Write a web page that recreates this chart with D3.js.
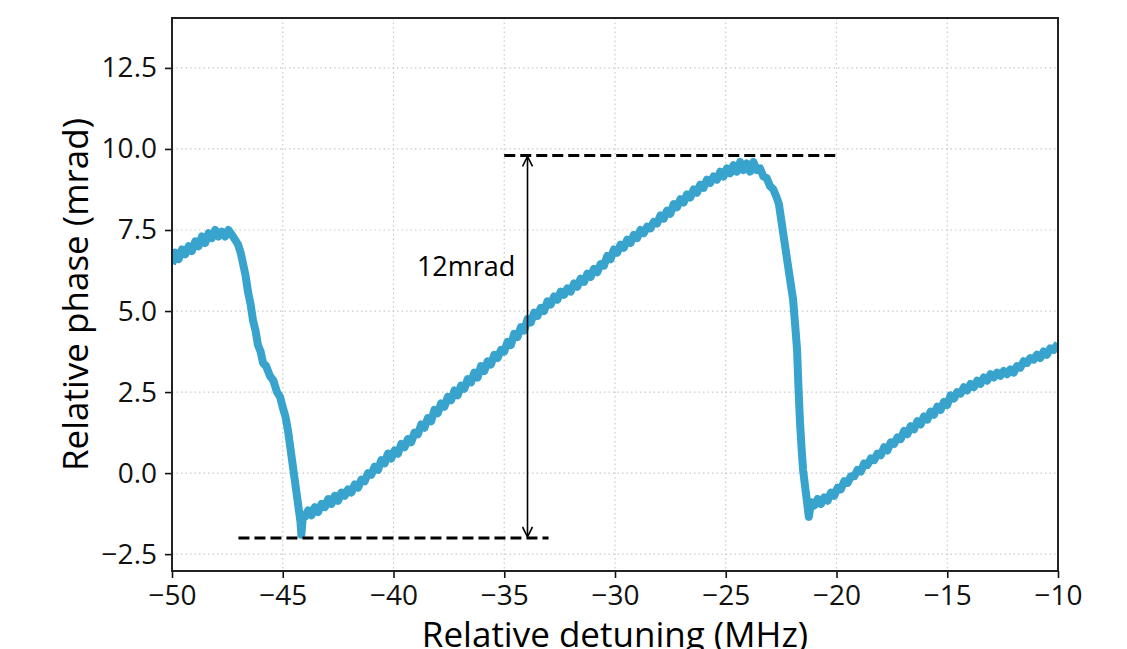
<!DOCTYPE html>
<html lang="en">
<head>
<meta charset="UTF-8">
<title>Relative phase vs detuning</title>
<script src="https://d3js.org/d3.v7.min.js"></script>
<style>
    body { margin: 0; background: #fff; overflow: hidden; }
    svg { display: block; }
    .tick text { font-family: "Open Sans", sans-serif; font-size: 28px; fill: #111; }
    .grid line { stroke: #c9c9c9; stroke-width: 1.2; stroke-dasharray: 1.5,3; }
</style>
</head>
<body>
<svg id="chart" width="1127" height="649"></svg>
<script>
    // trace, in rows of ten (MHz)
    const detuning = [
        -50.0, -49.85, -49.7, -49.55, -49.4, -49.25, -49.1, -48.95, -48.8, -48.65,
        -48.5, -48.35, -48.2, -48.05, -47.9, -47.75, -47.6, -47.45, -47.3, -47.15,
        -47.02, -46.9, -46.79, -46.68, -46.57, -46.45, -46.34, -46.23, -46.12, -46.0,
        -45.89, -45.75, -45.58, -45.42, -45.26, -45.12, -44.99, -44.88, -44.76, -44.67,
        -44.58, -44.49, -44.4, -44.3, -44.2, -44.16, -44.1, -44.0, -43.85, -43.7,
        -43.55, -43.4, -43.25, -43.1, -42.95, -42.8, -42.65, -42.5, -42.35, -42.2,
        -42.05, -41.9, -41.75, -41.6, -41.45, -41.3, -41.15, -41.0, -40.85, -40.7,
        -40.55, -40.4, -40.25, -40.1, -39.95, -39.8, -39.65, -39.5, -39.35, -39.2,
        -39.05, -38.9, -38.75, -38.6, -38.45, -38.3, -38.15, -38.0, -37.85, -37.7,
        -37.55, -37.4, -37.25, -37.1, -36.95, -36.8, -36.65, -36.5, -36.35, -36.2,
        -36.05, -35.9, -35.75, -35.6, -35.45, -35.3, -35.15, -35.0, -34.85, -34.7,
        -34.55, -34.4, -34.25, -34.1, -33.95, -33.8, -33.65, -33.5, -33.35, -33.2,
        -33.05, -32.9, -32.75, -32.6, -32.45, -32.3, -32.15, -32.0, -31.85, -31.7,
        -31.55, -31.4, -31.25, -31.1, -30.95, -30.8, -30.65, -30.5, -30.35, -30.2,
        -30.05, -29.9, -29.75, -29.6, -29.45, -29.3, -29.15, -29.0, -28.85, -28.7,
        -28.55, -28.4, -28.25, -28.1, -27.95, -27.8, -27.65, -27.5, -27.35, -27.2,
        -27.05, -26.9, -26.75, -26.6, -26.45, -26.3, -26.15, -26.0, -25.85, -25.7,
        -25.55, -25.4, -25.25, -25.1, -24.95, -24.8, -24.65, -24.5, -24.35, -24.2,
        -24.05, -23.9, -23.75, -23.6, -23.45, -23.3, -23.15, -23.0, -22.85, -22.7,
        -22.6, -22.46, -22.32, -22.19, -22.08, -21.96, -21.87, -21.78, -21.72, -21.65,
        -21.58, -21.51, -21.42, -21.33, -21.25, -21.15, -21.0, -20.85, -20.7, -20.55,
        -20.4, -20.25, -20.1, -19.95, -19.8, -19.65, -19.5, -19.35, -19.2, -19.05,
        -18.9, -18.75, -18.6, -18.45, -18.3, -18.15, -18.0, -17.85, -17.7, -17.55,
        -17.4, -17.25, -17.1, -16.95, -16.8, -16.65, -16.5, -16.35, -16.2, -16.05,
        -15.9, -15.75, -15.6, -15.45, -15.3, -15.15, -15.0, -14.85, -14.7, -14.55,
        -14.4, -14.25, -14.1, -13.95, -13.8, -13.65, -13.5, -13.35, -13.2, -13.05,
        -12.9, -12.75, -12.6, -12.45, -12.3, -12.15, -12.0, -11.85, -11.7, -11.55,
        -11.4, -11.25, -11.1, -10.95, -10.8, -10.65, -10.5, -10.35, -10.2, -10.0
    ];
    // matching phase readings (mrad)
    const phase = [
        6.45, 6.8, 6.6, 6.9, 6.75, 7.0, 6.85, 7.15, 7.0, 7.3,
        7.1, 7.4, 7.25, 7.5, 7.3, 7.45, 7.3, 7.5, 7.35, 7.2,
        7.05, 6.8, 6.45, 6.1, 5.6, 5.2, 4.7, 4.4, 3.95, 3.75,
        3.4, 3.3, 3.0, 2.85, 2.5, 2.35, 2.0, 1.75, 1.3, 0.85,
        0.4, -0.05, -0.5, -1.0, -1.5, -1.9, -1.4, -1.35, -1.15, -1.3,
        -1.05, -1.2, -0.95, -1.05, -0.8, -0.95, -0.7, -0.85, -0.6, -0.7,
        -0.5, -0.6, -0.35, -0.45, -0.2, -0.25, 0.0, -0.05, 0.2, 0.1,
        0.4, 0.3, 0.6, 0.45, 0.7, 0.6, 0.9, 0.8, 1.05, 0.95,
        1.25, 1.2, 1.5, 1.4, 1.7, 1.6, 1.95, 1.85, 2.15, 2.05,
        2.35, 2.25, 2.55, 2.4, 2.7, 2.6, 2.9, 2.8, 3.1, 2.95,
        3.3, 3.15, 3.45, 3.35, 3.65, 3.55, 3.8, 3.75, 4.05, 3.95,
        4.3, 4.2, 4.5, 4.4, 4.75, 4.65, 4.95, 4.85, 5.1, 5.0,
        5.3, 5.2, 5.45, 5.35, 5.6, 5.5, 5.7, 5.6, 5.85, 5.75,
        6.0, 5.9, 6.15, 6.05, 6.3, 6.2, 6.45, 6.4, 6.7, 6.6,
        6.9, 6.8, 7.05, 6.95, 7.2, 7.1, 7.35, 7.25, 7.5, 7.4,
        7.6, 7.55, 7.75, 7.7, 7.95, 7.85, 8.1, 8.0, 8.3, 8.2,
        8.45, 8.35, 8.6, 8.5, 8.75, 8.65, 8.9, 8.8, 9.05, 8.95,
        9.15, 9.05, 9.3, 9.15, 9.4, 9.25, 9.5, 9.3, 9.6, 9.35,
        9.55, 9.3, 9.6, 9.35, 9.4, 9.15, 9.1, 8.85, 8.75, 8.5,
        8.3, 7.65, 7.0, 6.4, 5.9, 5.35, 4.6, 3.8, 2.7, 1.6,
        0.8, 0.1, -0.4, -0.9, -1.35, -0.9, -1.0, -0.8, -0.95, -0.75,
        -0.85, -0.6, -0.7, -0.45, -0.5, -0.25, -0.3, -0.1, -0.1, 0.1,
        0.05, 0.3, 0.25, 0.45, 0.4, 0.6, 0.55, 0.8, 0.7, 0.95,
        0.9, 1.1, 1.05, 1.3, 1.2, 1.45, 1.35, 1.6, 1.5, 1.75,
        1.65, 1.9, 1.8, 2.05, 1.95, 2.2, 2.1, 2.4, 2.3, 2.5,
        2.45, 2.65, 2.55, 2.75, 2.65, 2.85, 2.75, 2.95, 2.85, 3.05,
        2.95, 3.1, 3.0, 3.15, 3.05, 3.2, 3.1, 3.3, 3.25, 3.45,
        3.4, 3.55, 3.5, 3.65, 3.55, 3.75, 3.65, 3.85, 3.8, 4.0
    ];
    const xTicks = [-50, -45, -40, -35, -30, -25, -20, -15, -10];
    const yTicks = [-2.5, 0.0, 2.5, 5.0, 7.5, 10.0, 12.5];

    // annotation: phase excursion markers
    const lowLevel = -2.0, highLevel = 9.8;
    const lowSpan = [-47, -33], highSpan = [-35, -20];
    const arrowX = -33.95;
    const spanLabel = "12mrad";

    const svg = d3.select("#chart");
    const margin = { top: 18, right: 69, bottom: 78, left: 172 };
    const width = 1127 - margin.left - margin.right,
          height = 649 - margin.top - margin.bottom;

    const x = d3.scaleLinear().domain([-50, -10]).range([0, width]);
    const y = d3.scaleLinear().domain([-3.02, 14.04]).range([height, 0]);

    const defs = svg.append("defs");
    defs.append("clipPath").attr("id", "clip")
        .append("rect").attr("width", width).attr("height", height);
    defs.append("marker")
        .attr("id", "head")
        .attr("viewBox", "0 0 12 12")
        .attr("refX", 11).attr("refY", 6)
        .attr("markerWidth", 12).attr("markerHeight", 12)
        .attr("markerUnits", "userSpaceOnUse")
        .attr("orient", "auto-start-reverse")
        .append("path")
        .attr("d", "M1,1 L11,6 L1,11")
        .attr("fill", "none").attr("stroke", "#000").attr("stroke-width", 1.6);

    const g = svg.append("g").attr("transform", `translate(${margin.left},${margin.top})`);

    // grid
    g.append("g").attr("class", "grid")
        .selectAll("line").data(xTicks.slice(1, -1)).join("line")
        .attr("x1", d => x(d)).attr("x2", d => x(d)).attr("y1", 0).attr("y2", height);
    g.append("g").attr("class", "grid")
        .selectAll("line").data(yTicks).join("line")
        .attr("y1", d => y(d)).attr("y2", d => y(d)).attr("x1", 0).attr("x2", width);

    // data trace
    const n = Math.min(detuning.length, phase.length);
    const pts = d3.range(n).map(i => [detuning[i], phase[i]]);
    g.append("path")
        .datum(pts)
        .attr("clip-path", "url(#clip)")
        .attr("fill", "none")
        .attr("stroke", "#38a3cc")
        .attr("stroke-width", 8)
        .attr("stroke-linejoin", "round")
        .attr("d", d3.line().x(d => x(d[0])).y(d => y(d[1])));

    // dashed level lines
    g.append("line")
        .attr("x1", x(lowSpan[0])).attr("x2", x(lowSpan[1]))
        .attr("y1", y(lowLevel)).attr("y2", y(lowLevel))
        .attr("stroke", "#000").attr("stroke-width", 3).attr("stroke-dasharray", "11,5");
    g.append("line")
        .attr("x1", x(highSpan[0])).attr("x2", x(highSpan[1]))
        .attr("y1", y(highLevel)).attr("y2", y(highLevel))
        .attr("stroke", "#000").attr("stroke-width", 3).attr("stroke-dasharray", "11,5");

    // double arrow
    g.append("line")
        .attr("x1", x(arrowX)).attr("x2", x(arrowX))
        .attr("y1", y(highLevel) + 1).attr("y2", y(lowLevel) - 1)
        .attr("stroke", "#000").attr("stroke-width", 1.6)
        .attr("marker-start", "url(#head)").attr("marker-end", "url(#head)");

    g.append("text")
        .attr("x", x(-34.5)).attr("y", y(6.36))
        .attr("text-anchor", "end").attr("dy", "0.35em")
        .style("font-family", "'Open Sans', sans-serif").style("font-size", "27px")
        .text(spanLabel);

    // axes
    const xAxis = g.append("g")
        .attr("transform", `translate(0,${height})`)
        .call(d3.axisBottom(x).tickValues(xTicks).tickSize(7).tickPadding(7)
            .tickFormat(d => d3.format("d")(d).replace("-", "\u2212")));
    const yAxis = g.append("g")
        .call(d3.axisLeft(y).tickValues(yTicks).tickSize(7).tickPadding(8)
            .tickFormat(d => d3.format(".1f")(d).replace("-", "\u2212")));
    [xAxis, yAxis].forEach(a => {
        a.select(".domain").remove();
        a.selectAll(".tick line").attr("stroke", "#111").attr("stroke-width", 1.6);
    });

    // frame
    g.append("rect")
        .attr("width", width).attr("height", height)
        .attr("fill", "none").attr("stroke", "#222").attr("stroke-width", 2);

    // axis titles
    svg.append("text")
        .attr("x", margin.left + width / 2).attr("y", 647)
        .attr("text-anchor", "middle")
        .style("font-family", "'Open Sans', sans-serif").style("font-size", "35px")
        .text("Relative detuning (MHz)");
    svg.append("text")
        .attr("transform", `translate(88,${margin.top + height / 2}) rotate(-90)`)
        .attr("text-anchor", "middle")
        .style("font-family", "'Open Sans', sans-serif").style("font-size", "35px")
        .text("Relative phase (mrad)");
</script>
</body>
</html>
